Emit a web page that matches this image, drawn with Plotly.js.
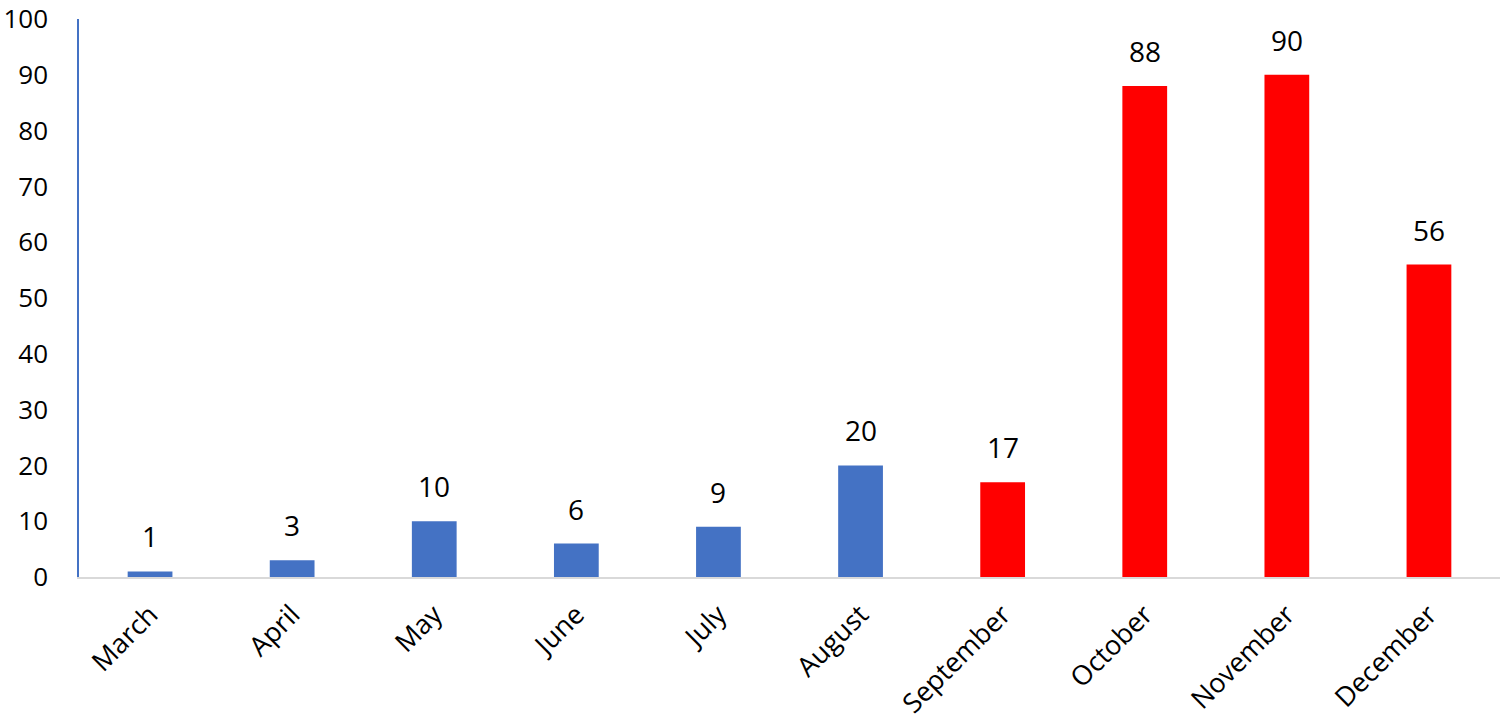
<!DOCTYPE html>
<html>
<head>
<meta charset="utf-8">
<script src="https://cdn.plot.ly/plotly-3.0.1.min.js"></script>
<style>
  html, body { margin: 0; padding: 0; background: #fff; }
  #chart { width: 1502px; height: 720px; }
</style>
</head>
<body>
<div id="chart"></div>
<script>
const months = ['March', 'April', 'May', 'June', 'July', 'August', 'September', 'October', 'November', 'December'];
const earlyMonths = ['March', 'April', 'May', 'June', 'July', 'August'];
const earlyValues = [1, 3, 10, 6, 9, 20];
const lateMonths = ['September', 'October', 'November', 'December'];
const lateValues = [17, 88, 90, 56];
const yTicks = [0, 10, 20, 30, 40, 50, 60, 70, 80, 90, 100];

const font = { family: 'Open Sans, sans-serif', size: 28, color: '#000' };

const bars = (x, y, color) => ({
  type: 'bar',
  x: x,
  y: y,
  marker: { color: color },
  hoverinfo: 'x+y',
  cliponaxis: false,
});

const labels = months.map((m, i) => {
  const v = i < earlyMonths.length ? earlyValues[i] : lateValues[i - earlyMonths.length];
  return {
    x: m, y: v, text: String(v), showarrow: false,
    yanchor: 'bottom', yshift: 14, font: font,
  };
});

Plotly.newPlot('chart', [
  bars(earlyMonths, earlyValues, '#4472C4'),
  bars(lateMonths, lateValues, '#FF0000'),
], {
  width: 1502,
  height: 720,
  margin: { t: 19, l: 79, r: 2, b: 143 },
  barmode: 'overlay',
  bargap: 0.685,
  showlegend: false,
  paper_bgcolor: '#fff',
  plot_bgcolor: '#fff',
  font: font,
  annotations: labels,
  xaxis: {
    categoryorder: 'array',
    categoryarray: months,
    tickangle: -45,
    showline: true,
    linecolor: '#D9D9D9',
    linewidth: 2,
    showgrid: false,
    ticks: '',
    ticklabelstandoff: 9,
    ticklabeloverflow: 'allow',
    tickfont: { family: font.family, size: 27, color: '#000' },
  },
  yaxis: {
    range: [0, 100],
    tickvals: yTicks,
    showline: true,
    linecolor: '#4472C4',
    linewidth: 1.5,
    showgrid: false,
    zeroline: false,
    ticks: '',
    ticklabelstandoff: 24,
    ticklabeloverflow: 'allow',
    tickfont: { family: font.family, size: 26, color: '#000' },
  },
}, { displayModeBar: false, responsive: false });
</script>
</body>
</html>
